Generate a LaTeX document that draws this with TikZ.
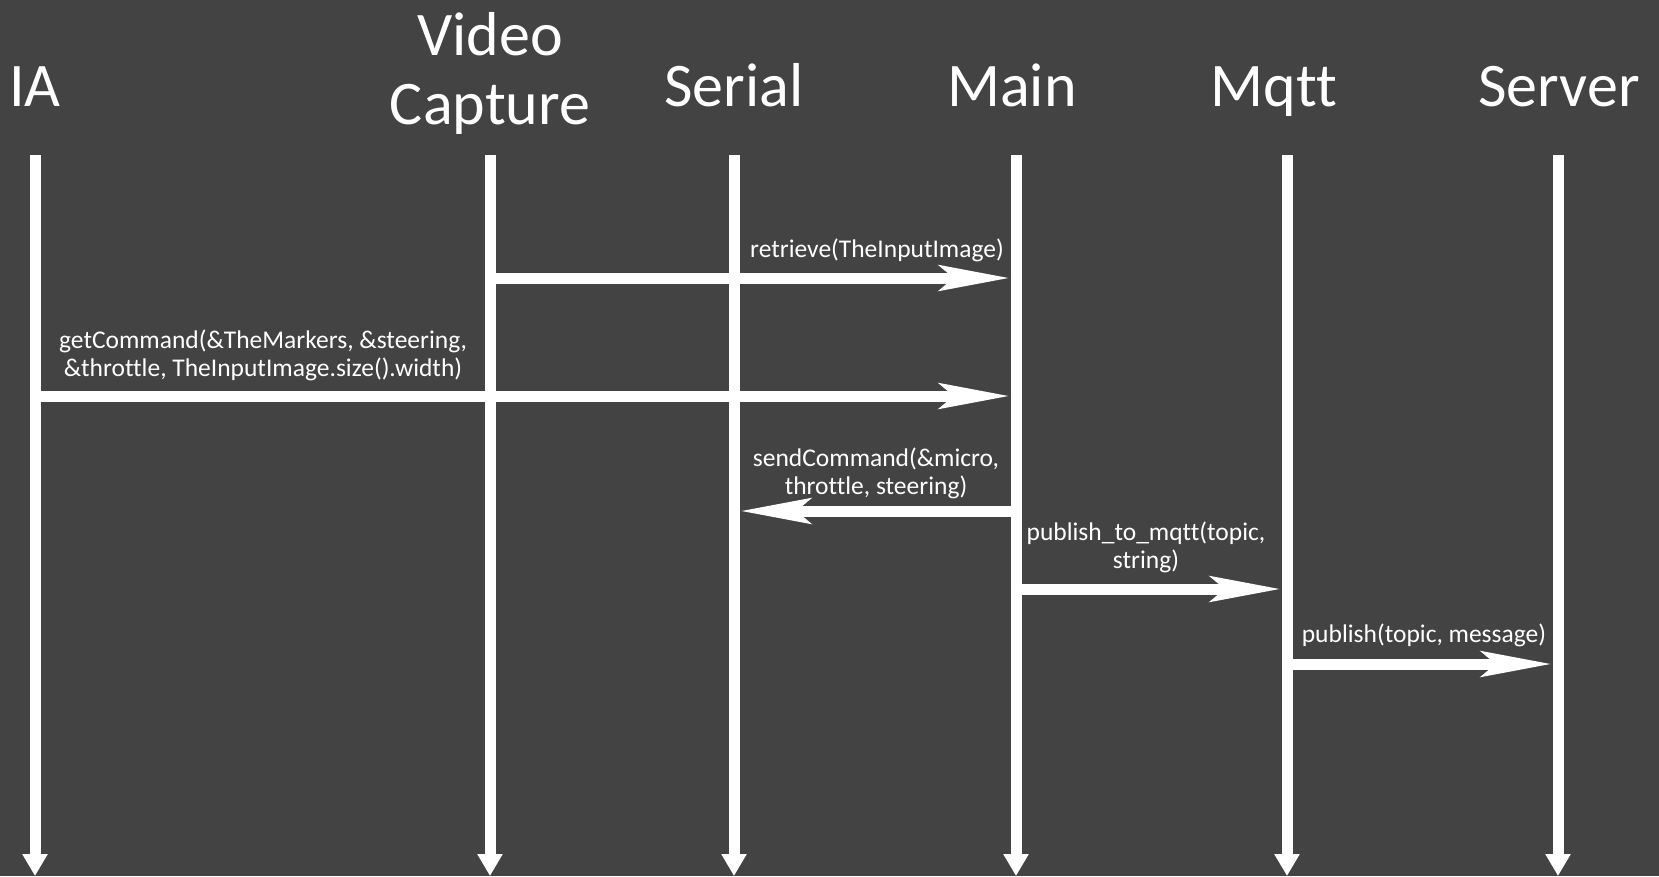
\documentclass[tikz,border=0pt]{standalone}
\usepackage{fontspec}
\setmainfont{Carlito}[RawFeature=-liga]
\usetikzlibrary{arrows.meta}
\usetikzlibrary{positioning}
\usetikzlibrary{calc}

\definecolor{slidebg}{HTML}{434343}

\tikzset{
  head/.style={text=white, font=\fontsize{62}{69}\selectfont, align=center, inner sep=0pt, anchor=base},
  lifeline/.style={draw=white, line width=11pt, -{Triangle[length=22pt,width=24pt]}},
  msg/.style={draw=white, line width=11pt, -{Stealth[length=70pt,width=25pt,inset=14pt]}, shorten >=6pt},
  msglabel/.style={text=white, font=\fontsize{25.5}{28}\selectfont, align=center, inner sep=0pt, anchor=base}
}

\begin{document}
\begin{tikzpicture}[x=1pt, y=-1pt]

\fill[slidebg] (0,0) rectangle (1659,876);
\useasboundingbox (0,0) rectangle (1659,876);

% headers
\node[head] (ia) at (35,106) {IA};
\node[head] (video) at (490,124) {Video\\Capture};
\node[head] (serial) at (734,106) {Serial};
\node[head] (main) at (1012,106) {Main};
\node[head] (mqtt) at (1274,106) {Mqtt};
\node[head] (server) at (1559,106) {Server};

% lifelines
\coordinate (ia top) at (35,155);
\coordinate (video top) at (490,155);
\coordinate (serial top) at (734,155);
\coordinate (main top) at (1016,155);
\coordinate (mqtt top) at (1287,155);
\coordinate (server top) at (1558,155);

\draw[lifeline] (ia top) -- (ia top |- 0,876);
\draw[lifeline] (video top) -- (video top |- 0,876);
\draw[lifeline] (serial top) -- (serial top |- 0,876);
\draw[lifeline] (main top) -- (main top |- 0,876);
\draw[lifeline] (mqtt top) -- (mqtt top |- 0,876);
\draw[lifeline] (server top) -- (server top |- 0,876);

% messages
\coordinate (m1) at (0,278);
\coordinate (m2) at (0,396);
\coordinate (m3) at (0,511);
\coordinate (m4) at (0,589);
\coordinate (m5) at (0,664);

\draw[msg] (video top |- m1) -- (main top |- m1);
\node[msglabel] (retrieve) at (877,257) {retrieve(TheInputImage)};

\draw[msg] (ia top |- m2) -- (main top |- m2);
\node[msglabel] (getcmd) at (263,376) {getCommand(\&TheMarkers, \&steering,\\\&throttle, TheInputImage.size().width)};

\draw[msg] (main top |- m3) -- (serial top |- m3);
\node[msglabel] (sendcmd) at (876,494) {sendCommand(\&micro,\\throttle, steering)};

\draw[msg] (main top |- m4) -- (mqtt top |- m4);
\node[msglabel] (pubmqtt) at (1146,568) {publish\_to\_mqtt(topic,\\string)};

\draw[msg] (mqtt top |- m5) -- (server top |- m5);
\node[msglabel] (publish) at (1424,642) {publish(topic, message)};

\end{tikzpicture}
\end{document}
